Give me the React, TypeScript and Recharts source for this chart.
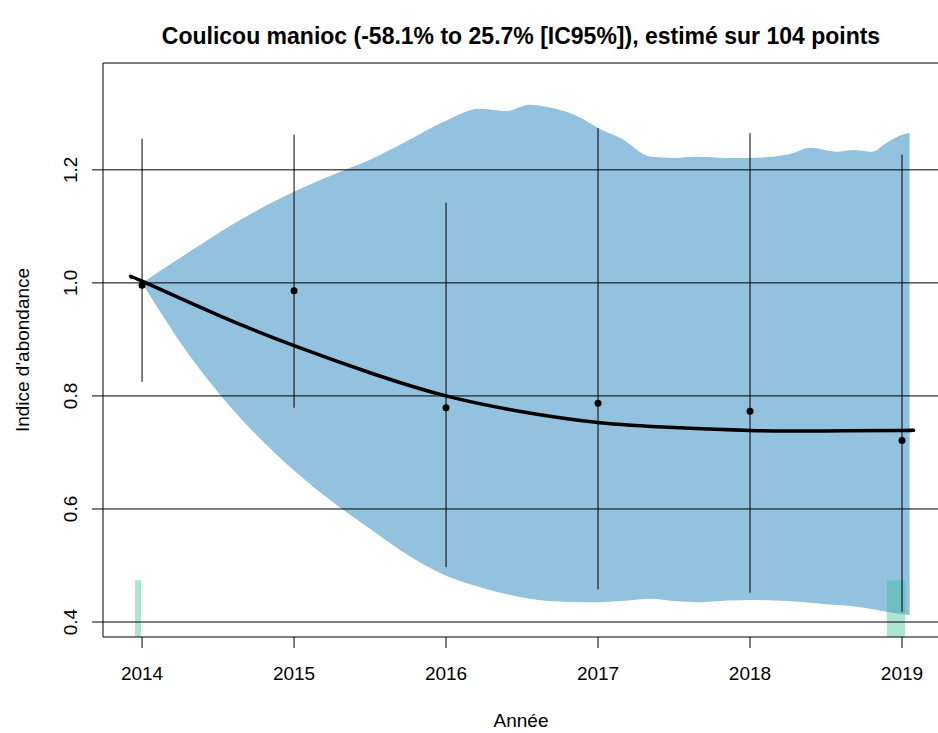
import React from "react";
import {
  Area,
  ComposedChart,
  ErrorBar,
  Line,
  ReferenceArea,
  ReferenceLine,
  Scatter,
  XAxis,
  YAxis,
} from "recharts";

// yearly estimates with their 95% interval
const years = [2014, 2015, 2016, 2017, 2018, 2019];
const yearValues = [0.996, 0.986, 0.779, 0.787, 0.773, 0.721];
const yearLow = [0.825, 0.779, 0.497, 0.458, 0.452, 0.418];
const yearHigh = [1.255, 1.262, 1.142, 1.274, 1.265, 1.227];

// confidence band of the trend
const bandX = [
  2014, 2014.33, 2014.65, 2015, 2015.3, 2015.5, 2015.7, 2016, 2016.22, 2016.4,
  2016.55, 2016.67, 2016.9, 2017, 2017.15, 2017.35, 2017.5, 2017.65, 2017.85,
  2018, 2018.25, 2018.4, 2018.57, 2018.68, 2018.8, 2018.9, 2019, 2019.05,
];
const bandHigh = [
  1.0, 1.058, 1.112, 1.161, 1.196, 1.218, 1.245, 1.287, 1.308, 1.304, 1.315,
  1.311, 1.29, 1.274, 1.256, 1.223, 1.221, 1.223, 1.221, 1.221, 1.227, 1.239,
  1.232, 1.235, 1.232, 1.248, 1.262, 1.265,
];
const bandLow = [
  1.0, 0.865, 0.76, 0.668, 0.603, 0.565, 0.527, 0.482, 0.462, 0.449, 0.441,
  0.437, 0.435, 0.435, 0.437, 0.441, 0.437, 0.435, 0.438, 0.439, 0.437, 0.434,
  0.43, 0.428, 0.423, 0.418, 0.414, 0.412,
];

// smoothed trend
const trendX = [
  2013.94, 2014, 2014.5, 2015, 2015.5, 2016, 2016.5, 2017, 2017.5, 2018,
  2018.5, 2019, 2019.06,
];
const trendY = [
  1.009, 1.003, 0.943, 0.889, 0.841, 0.8, 0.772, 0.753, 0.744, 0.739, 0.738,
  0.739, 0.739,
];

// sampling bars at the bottom
const samplingFrom = [2013.954, 2018.9];
const samplingTo = [2013.993, 2019.02];
const samplingTop = [0.474, 0.474];

const yTicks = [0.4, 0.6, 0.8, 1.0, 1.2];
const xDomain = [2013.743, 2019.25];
const yDomain = [0.3735, 1.389];

const FONT = "'Liberation Sans', Arial, Helvetica, sans-serif";

const band = bandX.map((x, i) => ({ x, range: [bandLow[i], bandHigh[i]] }));
const trend = trendX.map((x, i) => ({ x, fit: trendY[i] }));
const points = years.map((x, i) => ({
  x,
  y: yearValues[i],
  err: [yearValues[i] - yearLow[i], yearHigh[i] - yearValues[i]],
}));

const XTick = ({ x, y, payload }: any) => (
  <text
    x={x}
    y={y + 30}
    textAnchor="middle"
    fontFamily={FONT}
    fontSize={19}
    fill="#000"
  >
    {payload.value}
  </text>
);

const YTick = ({ x, y, payload }: any) => (
  <text
    transform={`translate(${x - 13},${y}) rotate(-90)`}
    textAnchor="middle"
    fontFamily={FONT}
    fontSize={19}
    fill="#000"
  >
    {Number(payload.value).toFixed(1)}
  </text>
);

const Dot = ({ cx, cy }: any) => <circle cx={cx} cy={cy} r={3.5} fill="#000" />;

export default function App() {
  return (
    <div
      style={{
        position: "absolute",
        left: 0,
        top: 0,
        width: 938,
        height: 733,
        overflow: "hidden",
        background: "#fff",
      }}
    >
      <ComposedChart
        width={960}
        height={733}
        margin={{ top: 63, right: 20, bottom: 0, left: 0 }}
      >
        <XAxis
          dataKey="x"
          type="number"
          domain={xDomain}
          ticks={years}
          allowDataOverflow
          tick={<XTick />}
          tickSize={11}
          height={96}
          axisLine={{ stroke: "#000" }}
          tickLine={{ stroke: "#000" }}
        />
        <YAxis
          type="number"
          domain={yDomain}
          ticks={yTicks}
          allowDataOverflow
          tick={<YTick />}
          tickSize={11}
          width={103}
          axisLine={{ stroke: "#000" }}
          tickLine={{ stroke: "#000" }}
        />
        <Area
          data={band}
          dataKey="range"
          type="monotone"
          fill="#92c2de"
          fillOpacity={1}
          stroke="none"
          isAnimationActive={false}
        />
        {samplingFrom.map((x1, i) => (
          <ReferenceArea
            key={i}
            x1={x1}
            x2={samplingTo[i]}
            y1={yDomain[0]}
            y2={samplingTop[i]}
            fill="#3dbf95"
            fillOpacity={0.42}
            stroke="none"
          />
        ))}
        {yTicks.map((v) => (
          <ReferenceLine key={v} y={v} stroke="#000" strokeWidth={1} />
        ))}
        <ReferenceLine y={yDomain[1]} stroke="#000" strokeWidth={1} />
        <Line
          data={trend}
          dataKey="fit"
          type="natural"
          stroke="#000"
          strokeWidth={3.5}
          dot={false}
          isAnimationActive={false}
        />
        <Scatter
          data={points}
          dataKey="y"
          shape={<Dot />}
          isAnimationActive={false}
        >
          <ErrorBar
            dataKey="err"
            direction="y"
            width={0}
            stroke="#000"
            strokeWidth={1}
            isAnimationActive={false}
          />
        </Scatter>
      </ComposedChart>
      <svg
        width={938}
        height={733}
        style={{ position: "absolute", left: 0, top: 0, pointerEvents: "none" }}
      >
        <text
          x={521}
          y={44}
          textAnchor="middle"
          fontFamily={FONT}
          fontWeight="bold"
          fontSize={23}
          fill="#000"
        >
          Coulicou manioc (-58.1% to 25.7% [IC95%]), estimé sur 104 points
        </text>
        <text
          x={521}
          y={727}
          textAnchor="middle"
          fontFamily={FONT}
          fontSize={19}
          fill="#000"
        >
          Année
        </text>
        <text
          transform="translate(29,350) rotate(-90)"
          textAnchor="middle"
          fontFamily={FONT}
          fontSize={19}
          fill="#000"
        >
          Indice d'abondance
        </text>
      </svg>
    </div>
  );
}
